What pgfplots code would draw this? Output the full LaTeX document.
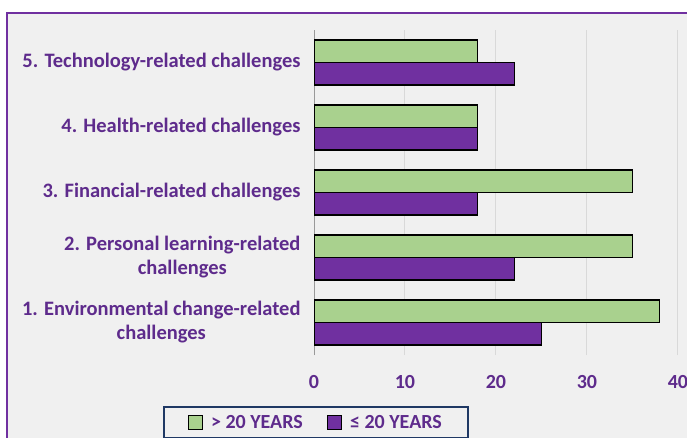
\documentclass[border=0pt]{standalone}
\usepackage{pgfplots}
\pgfplotsset{compat=1.18}
\usepackage{fontspec}
\setmainfont{Carlito}
\definecolor{bgc}{HTML}{F0F0F0}
\definecolor{frame}{HTML}{7030A0}
\definecolor{barg}{HTML}{A9D18E}
\definecolor{barp}{HTML}{7030A0}
\definecolor{txt}{HTML}{5E2B8C}
\definecolor{navy}{HTML}{1F3864}
\definecolor{gridc}{HTML}{D9D9D9}

\begin{document}
\begin{tikzpicture}[x=1pt,y=1pt]
\path[use as bounding box] (0,0) rectangle (687,-437);
\fill[white] (0,0) rectangle (687,-437);
\fill[bgc] (7,-13) rectangle (700,-450);
\draw[frame, line width=2.5pt] (7,-450) -- (7,-13) -- (700,-13);
\begin{axis}[
    at={(314pt,-355pt)}, anchor=south west,
    scale only axis,
    width=373pt, height=325pt,
    xbar,
    bar width=22.5pt,
    xmin=0, xmax=41,
    ymin=0.5, ymax=5.5,
    xtick={0,10,20,30,40},
    ytick={1,2,3,4,5},
    yticklabels={{1. Environmental change-related\\challenges},
                 {2. Personal learning-related\\challenges},
                 {3. Financial-related challenges},
                 {4. Health-related challenges},
                 {5. Technology-related challenges}},
    yticklabel style={align=center, font=\fontsize{20.5}{24}\selectfont\bfseries, text=txt, xshift=-10pt},
    xticklabel style={font=\fontsize{20}{24}\selectfont\bfseries, text=txt, yshift=-17pt},
    /pgf/number format/assume math mode=true,
    major tick length=0pt,
    axis line style={draw=none},
    xmajorgrids, major grid style={gridc, line width=1pt},
    extra x ticks={0}, extra x tick labels={},
    extra x tick style={major grid style={gray!80, line width=1pt}},
    legend style={at={(0.005,-0.158)}, anchor=north, legend columns=2,
        draw=navy, line width=1.8pt, fill=bgc,
        font=\fontsize{20}{24}\selectfont\bfseries, text=txt,
        inner xsep=24pt, inner ysep=6pt,
        /tikz/every odd column/.append style={column sep=6pt},
        /tikz/every even column/.append style={column sep=22pt}},
    legend image code/.code={\draw[#1, draw=black, line width=1.2pt] (0pt,-7pt) rectangle (14pt,7pt);},
]
\addplot[fill=barg, draw=black, line width=1.2pt, bar shift=11.25pt]
    coordinates {(38,1) (35,2) (35,3) (18,4) (18,5)};
\addplot[fill=barp, draw=black, line width=1.2pt, bar shift=-11.25pt]
    coordinates {(25,1) (22,2) (18,3) (18,4) (22,5)};
\legend{> 20 YEARS, ≤ 20 YEARS}
\end{axis}
\end{tikzpicture}
\end{document}
